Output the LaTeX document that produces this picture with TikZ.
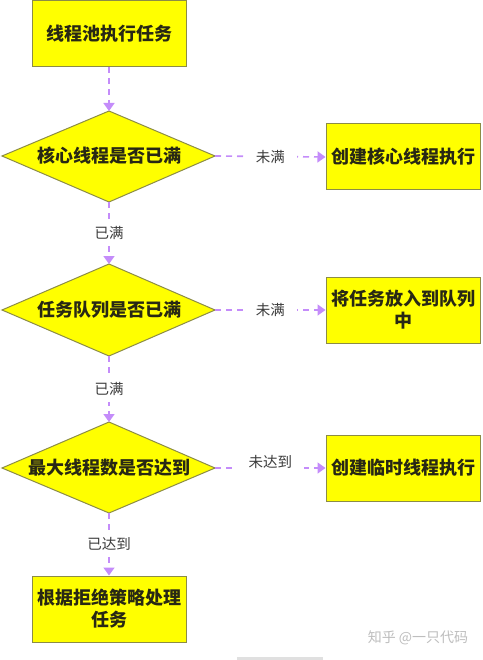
\documentclass[tikz,border=0pt]{standalone}
\usepackage{fontspec}
\setmainfont{Noto Sans CJK SC}
\usetikzlibrary{arrows.meta}
\definecolor{boxfill}{RGB}{255,255,0}
\definecolor{boxline}{RGB}{140,140,70}
\definecolor{boxtext}{RGB}{40,40,20}
\definecolor{conn}{RGB}{196,140,250}
\definecolor{lbltext}{RGB}{60,60,60}
\definecolor{wm}{RGB}{190,190,190}
\tikzset{
  procbox/.style={draw=boxline, line width=1pt, fill=boxfill, text=boxtext,
    font=\fontsize{18}{22}\selectfont\bfseries, align=center,
    minimum width=154pt, minimum height=66pt, inner sep=0pt, text width=146pt},
  decshape/.style={draw=boxline, line width=1pt, fill=boxfill},
  dectext/.style={text=boxtext, font=\fontsize{18}{22}\selectfont\bfseries, inner sep=0pt},
  flow/.style={draw=conn, line width=1.6pt, dash pattern=on 6pt off 5pt,
    -{Triangle[length=8pt,width=11pt]}},
  flowlbl/.style={fill=white, text=lbltext, font=\fontsize{14.5}{16}\selectfont, inner xsep=12pt, inner ysep=6pt},
  vflowlbl/.style={fill=white, text=lbltext, font=\fontsize{14.5}{16}\selectfont, inner xsep=4pt, inner ysep=6pt}
}
\begin{document}
\begin{tikzpicture}[x=1pt,y=-1pt]
\useasboundingbox (0,0) rectangle (482,660);
\fill[white] (0,0) rectangle (482,660);

% start box
\node[procbox] (start) at (109,34) {线程池执行任务};

% diamond 1
\coordinate (d1t) at (109,111);
\coordinate (d1b) at (109,202);
\coordinate (d1l) at (2,156);
\coordinate (d1r) at (215,156);
\path[decshape] (d1t) -- (d1r) -- (d1b) -- (d1l) -- cycle;
\node[dectext] (q1) at (109,156) {核心线程是否已满};

% diamond 2
\coordinate (d2t) at (109,264);
\coordinate (d2b) at (109,356);
\coordinate (d2l) at (2,310);
\coordinate (d2r) at (215,310);
\path[decshape] (d2t) -- (d2r) -- (d2b) -- (d2l) -- cycle;
\node[dectext] (q2) at (109,310) {任务队列是否已满};

% diamond 3
\coordinate (d3t) at (109,422);
\coordinate (d3b) at (109,513);
\coordinate (d3l) at (2,468);
\coordinate (d3r) at (215,468);
\path[decshape] (d3t) -- (d3r) -- (d3b) -- (d3l) -- cycle;
\node[dectext] (q3) at (109,468) {最大线程数是否达到};

% right boxes
\node[procbox] (core) at (403,157) {创建核心线程执行};
\node[procbox] (queue) at (403,310) {将任务放入到队列\\中};
\node[procbox] (temp) at (403,468) {创建临时线程执行};

% reject box
\node[procbox] (reject) at (109,609) {根据拒绝策略处理\\任务};

% connectors
\draw[flow] (start.south) -- (d1t);
\draw[flow] (d1r) -- node[flowlbl] (l1) {未满} (core.west);
\draw[flow] (d1b) -- node[vflowlbl] (l2) {已满} (d2t);
\draw[flow] (d2r) -- node[flowlbl] (l3) {未满} (queue.west);
\draw[flow] (d2b) -- node[vflowlbl] (l4) {已满} (d3t);
\draw[flow] (d3r) -- node[flowlbl, yshift=6pt] (l5) {未达到} (temp.west);
\draw[flow] (d3b) -- node[vflowlbl] (l6) {已达到} (reject.north);

% watermark
\node[text=wm, font=\fontsize{14}{16}\selectfont, inner sep=0pt] (wmk) at (418,638) {知乎 @一只代码};
\fill[black!12] (237,657) rectangle (323,660);
\end{tikzpicture}
\end{document}
